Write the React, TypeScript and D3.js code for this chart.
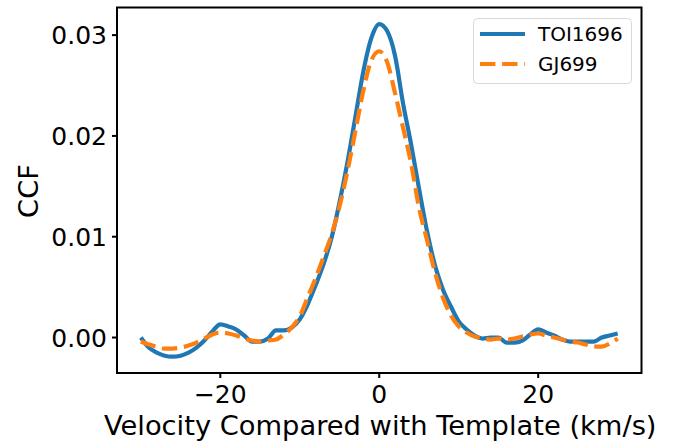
import React from "react";
import * as d3 from "d3";

const velocities = [
  -30, -29, -28, -27, -26, -25, -24, -23, -22, -21, -20, -19, -18, -17, -16, -15, -14, -13, -12, -11,
  -10, -9, -8, -7, -6, -5, -4, -3, -2, -1, 0, 1, 2, 3, 4, 5, 6, 7, 8, 9,
  10, 11, 12, 13, 14, 15, 16, 17, 18, 19, 20, 21, 22, 23, 24, 25, 26, 27, 28, 29, 30,
];

const toi1696 = [
  0.0, -0.001, -0.0015, -0.0018, -0.0019, -0.0018, -0.0015, -0.001, -0.0003, 0.0006,
  0.0013, 0.0011, 0.0008, 0.0002, -0.0004, -0.0004, -0.0001, 0.0007, 0.0007, 0.001,
  0.0018, 0.0033, 0.0052, 0.0073, 0.0099, 0.0134, 0.0174, 0.0219, 0.0264, 0.0297,
  0.0311, 0.0304, 0.0279, 0.0232, 0.0192, 0.0148, 0.0106, 0.0072, 0.0048, 0.0031,
  0.0016, 0.0008, 0.0002, -0.0001, 0.0, 0.0, -0.0005, -0.0005, -0.0003, 0.0003,
  0.0008, 0.0005, 0.0002, -0.0002, -0.0004, -0.0004, -0.0004, -0.0004, 0.0, 0.0002, 0.0004,
];

const gj699 = [
  -0.0004, -0.0007, -0.0009, -0.0011, -0.0011, -0.001, -0.0008, -0.0005, -0.0001, 0.0003,
  0.0005, 0.0004, 0.0002, -0.0001, -0.0003, -0.0004, -0.0003, -0.0002, 0.0003, 0.001,
  0.0021, 0.004, 0.0059, 0.008, 0.0102, 0.0130, 0.0165, 0.0205, 0.0245, 0.0275,
  0.0284, 0.0273, 0.0242, 0.0208, 0.0173, 0.0129, 0.0097, 0.0065, 0.004, 0.0022,
  0.0011, 0.0005, 0.0001, -0.0001, -0.0002, -0.0001, -0.0002, -0.0001, 0.0001, 0.0003,
  0.0004, 0.0002, 0.0, -0.0002, -0.0004, -0.0005, -0.0007, -0.0009, -0.0009, -0.0006, -0.0001,
];

const xTicks = [-20, 0, 20];
const yTicks = [0.0, 0.01, 0.02, 0.03];
const seriesNames = ["TOI1696", "GJ699"];
const seriesColors = ["#1f77b4", "#ff7f0e"];

const W = 675;
const H = 443;
const left = 117;
const right = 641.5;
const top = 7.5;
const bottom = 373;
const FONT = "DejaVu Sans, sans-serif";

export default function App() {
  const x = d3.scaleLinear().domain([-33, 33]).range([left, right]);
  const y = d3.scaleLinear().domain([-0.00352, 0.03274]).range([bottom, top]);

  const line = d3
    .line<number>()
    .x((_, i) => x(velocities[i]))
    .curve(d3.curveMonotoneX);

  const blueD = line.y((d) => y(d))(toi1696) || "";
  const orangeD = line.y((d) => y(d))(gj699) || "";

  const fmtX = (v: number) => (v < 0 ? "\u2212" + Math.abs(v) : String(v));

  return (
    <svg
      width={W}
      height={H}
      style={{ position: "absolute", left: 0, top: 0, background: "#fff" }}
      fontFamily={FONT}
    >
      <rect x={0} y={0} width={W} height={H} fill="#fff" />
      <defs>
        <clipPath id="plotclip">
          <rect x={left} y={top} width={right - left} height={bottom - top} />
        </clipPath>
      </defs>
      <g clipPath="url(#plotclip)">
        <path d={blueD} fill="none" stroke={seriesColors[0]} strokeWidth={4.2} strokeLinejoin="round" strokeLinecap="butt" />
        <path d={orangeD} fill="none" stroke={seriesColors[1]} strokeWidth={4.2} strokeDasharray="15.4 6.7" strokeLinejoin="round" />
      </g>
      <rect x={left} y={top} width={right - left} height={bottom - top} fill="none" stroke="#000" strokeWidth={2} />
      {xTicks.map((t) => (
        <g key={"x" + t}>
          <line x1={x(t)} x2={x(t)} y1={bottom} y2={bottom + 5} stroke="#000" strokeWidth={2} />
          <text x={x(t)} y={403} textAnchor="middle" fontSize={25} fill="#000">
            {fmtX(t)}
          </text>
        </g>
      ))}
      {yTicks.map((t) => (
        <g key={"y" + t}>
          <line x1={left - 5} x2={left} y1={y(t)} y2={y(t)} stroke="#000" strokeWidth={2} />
          <text x={left - 10} y={y(t) + 9} textAnchor="end" fontSize={25} fill="#000">
            {t.toFixed(2)}
          </text>
        </g>
      ))}
      <text x={(left + right) / 2 + 1} y={435} textAnchor="middle" fontSize={27.3} fill="#000">
        Velocity Compared with Template (km/s)
      </text>
      <text
        transform={`translate(38,191) rotate(-90)`}
        textAnchor="middle"
        fontSize={27.3}
        fill="#000"
      >
        CCF
      </text>
      <g>
        <rect x={473.5} y={18.5} width={158} height={65} rx={4} ry={4} fill="#fff" fillOpacity={0.8} stroke="#d9d9d9" strokeWidth={1} />
        <line x1={480} x2={525} y1={34} y2={34} stroke={seriesColors[0]} strokeWidth={4.2} />
        <text x={538} y={41} fontSize={20} fill="#000">{seriesNames[0]}</text>
        <line x1={480} x2={525} y1={64} y2={64} stroke={seriesColors[1]} strokeWidth={4.2} strokeDasharray="15.4 6.7" />
        <text x={538} y={71} fontSize={20} fill="#000">{seriesNames[1]}</text>
      </g>
    </svg>
  );
}
